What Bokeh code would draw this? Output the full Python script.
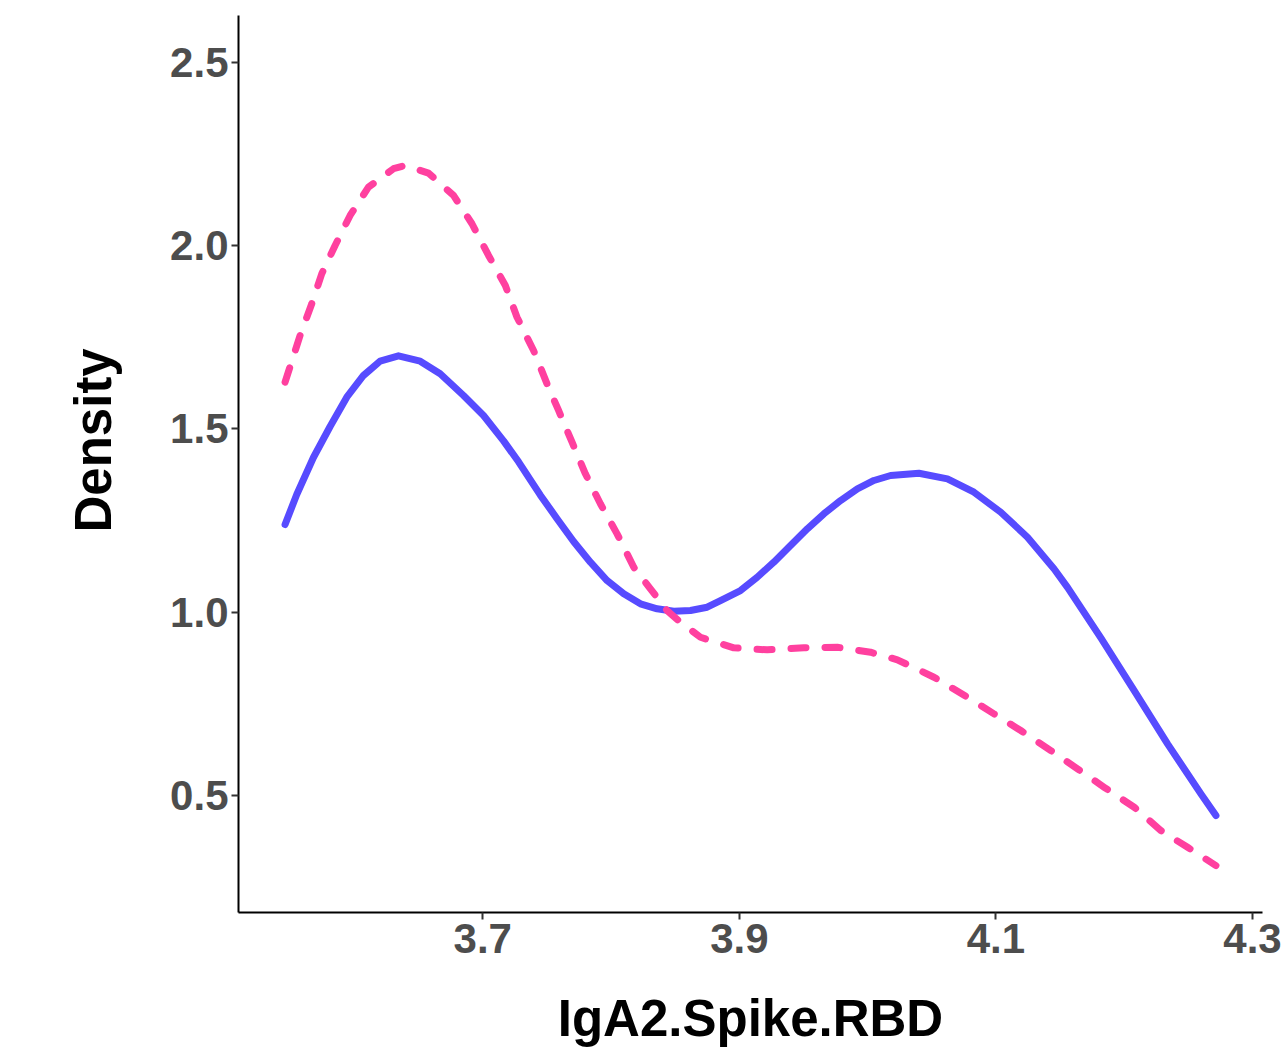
from bokeh.plotting import figure
from bokeh.models import Range1d, FixedTicker, Title
from bokeh.embed import file_html
from bokeh.resources import INLINE

# Density curve of group A (solid, blue)
blue_x = [3.5459, 3.555, 3.568, 3.581, 3.594, 3.607, 3.62, 3.6343, 3.6512, 3.6668,
          3.685, 3.7006, 3.7162, 3.7279, 3.7449, 3.7579, 3.7708, 3.7839, 3.7969, 3.8099,
          3.8229, 3.8359, 3.8489, 3.8619, 3.8749, 3.8853, 3.9009, 3.9139, 3.9269, 3.9399,
          3.953, 3.9659, 3.9789, 3.992, 4.0049, 4.0179, 4.04, 4.0622, 4.0829, 4.1038,
          4.1246, 4.1454, 4.1558, 4.1818, 4.2078, 4.2338, 4.2598, 4.2715]
blue_y = [1.2394, 1.3213, 1.4222, 1.5068, 1.5868, 1.646, 1.685, 1.6997, 1.685, 1.6506,
          1.5914, 1.5368, 1.4676, 1.4104, 1.3195, 1.2553, 1.1931, 1.1366, 1.0866, 1.0503,
          1.0231, 1.0094, 1.0029, 1.0048, 1.0138, 1.032, 1.0593, 1.0956, 1.1366, 1.1821,
          1.2277, 1.2686, 1.3049, 1.3368, 1.3595, 1.3731, 1.3794, 1.3641, 1.3276, 1.273,
          1.2048, 1.118, 1.068, 0.930, 0.7865, 0.641, 0.5046, 0.4454]

# Density curve of group B (dashed, pink)
pink_x = [3.5459, 3.5576, 3.5667, 3.5745, 3.5849, 3.5966, 3.6109, 3.6304, 3.6395, 3.6577,
          3.6772, 3.6916, 3.7045, 3.7176, 3.7267, 3.7396, 3.7501, 3.7591, 3.7696, 3.78,
          3.7917, 3.8047, 3.8177, 3.8307, 3.8437, 3.8541, 3.8697, 3.8957, 3.9217, 3.9503,
          3.9764, 4.0023, 4.0232, 4.0517, 4.0778, 4.0985, 4.1194, 4.1428, 4.1636, 4.1844,
          4.2078, 4.2286, 4.2494, 4.2715]
pink_y = [1.6277, 1.7551, 1.8416, 1.9235, 2.0007, 2.0825, 2.1598, 2.21, 2.219, 2.198,
          2.1371, 2.0599, 1.9734, 1.8915, 1.805, 1.7142, 1.6233, 1.5505, 1.464, 1.3778,
          1.2959, 1.214, 1.1229, 1.064, 1.0048, 0.9729, 0.9319, 0.903, 0.8975, 0.903,
          0.9046, 0.891, 0.8703, 0.8228, 0.7682, 0.7229, 0.6774, 0.6228, 0.5728, 0.5226,
          0.4681, 0.4045, 0.3589, 0.309]

x_ticks = [3.7, 3.9, 4.1, 4.3]
y_ticks = [0.5, 1.0, 1.5, 2.0, 2.5]
x_label = "IgA2.Spike.RBD"
y_label = "Density"

p = figure(width=1286, height=1054, output_backend="svg", toolbar_location=None,
           x_range=Range1d(3.5096, 4.3078), y_range=Range1d(0.181, 2.628),
           min_border_left=238, min_border_right=24, min_border_top=15,
           min_border_bottom=142)
p.background_fill_color = "white"
p.border_fill_color = "white"
p.outline_line_color = None
p.grid.visible = False

p.line(blue_x, blue_y, line_color="#574BFF", line_width=7, line_cap="round",
       line_join="round")
p.line(pink_x, pink_y, line_color="#FF409F", line_width=7, line_cap="round",
       line_join="round", line_dash="15 19")

for ax in (p.xaxis[0], p.yaxis[0]):
    ax.axis_line_color = "black"
    ax.axis_line_width = 2
    ax.major_tick_line_color = "#333333"
    ax.major_tick_line_width = 2
    ax.major_tick_in = 0
    ax.major_tick_out = 7
    ax.minor_tick_line_color = None
    ax.major_label_text_font = "Liberation Sans"
    ax.major_label_text_font_style = "bold"
    ax.major_label_text_color = "#4D4D4D"
    ax.major_label_text_font_size = "42px"
    ax.axis_label_text_font = "Liberation Sans"
    ax.axis_label_text_font_style = "bold"
    ax.axis_label_text_color = "black"
    ax.axis_label_text_font_size = "51px"

p.xaxis[0].ticker = FixedTicker(ticks=x_ticks)
p.yaxis[0].ticker = FixedTicker(ticks=y_ticks)
p.xaxis[0].major_label_overrides = {t: str(t) for t in x_ticks}
p.yaxis[0].major_label_overrides = {t: f"{t:.1f}" for t in y_ticks}
p.xaxis[0].axis_label = x_label
p.xaxis[0].major_label_standoff = 4
p.yaxis[0].major_label_standoff = 3
p.xaxis[0].axis_label_standoff = 34

# y-axis title, sitting a little above the panel centre as in the reference
ytitle = Title(text=y_label, align="left", offset=380, standoff=92,
               text_font="Liberation Sans", text_font_style="bold",
               text_font_size="51px", text_color="black")
p.add_layout(ytitle, "left")

open("out.html", "w").write(file_html(p, INLINE))
